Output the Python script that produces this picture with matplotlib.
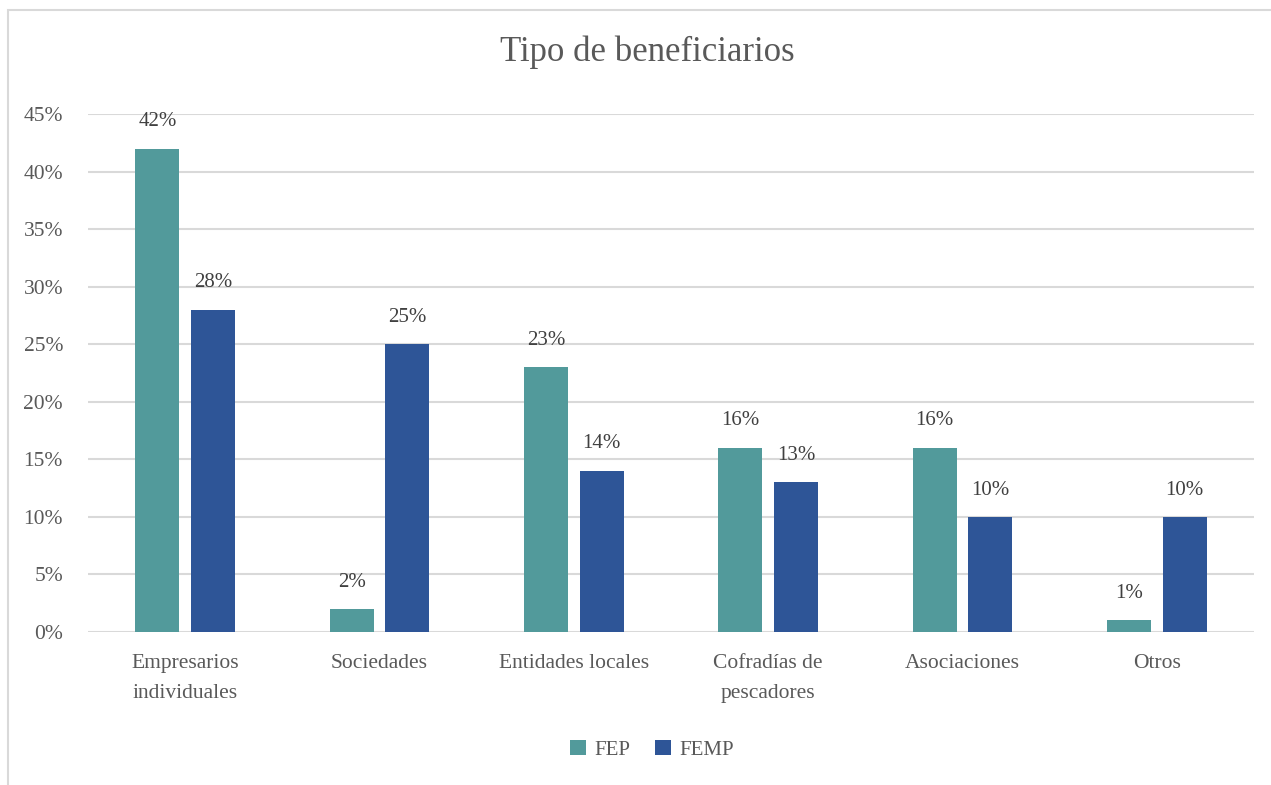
import numpy as np
import matplotlib.pyplot as plt
from matplotlib.patches import Rectangle

# Datos del gráfico
categorias = ['Empresarios\nindividuales', 'Sociedades', 'Entidades locales',
              'Cofradías de\npescadores', 'Asociaciones', 'Otros']
fep = [0.42, 0.02, 0.23, 0.16, 0.16, 0.01]
femp = [0.28, 0.25, 0.14, 0.13, 0.10, 0.10]
yticks = [0, 0.05, 0.10, 0.15, 0.20, 0.25, 0.30, 0.35, 0.40, 0.45]

color_fep = '#529A9B'
color_femp = '#2E5597'
gris = '#595959'

plt.rcParams['font.family'] = ['Liberation Serif', 'DejaVu Serif']

fig = plt.figure(figsize=(12.71, 7.85), dpi=100)
ax = fig.add_axes([88 / 1271, 1 - 632 / 785, (1254 - 88) / 1271, (632 - 114) / 785])

# Marco exterior del gráfico
fig.patches.append(Rectangle((8 / 1271, -0.05), 1.1, 1 - 10 / 785 + 0.05,
                             transform=fig.transFigure, fill=False,
                             edgecolor='#D9D9D9', linewidth=1.5))

x = np.arange(len(categorias))
ancho = 0.227
desp = 0.143

b1 = ax.bar(x - desp, fep, ancho, color=color_fep, label='FEP', zorder=3)
b2 = ax.bar(x + desp, femp, ancho, color=color_femp, label='FEMP', zorder=3)

for barras, valores in [(b1, fep), (b2, femp)]:
    for barra, v in zip(barras, valores):
        ax.annotate(f'{v * 100:.0f}%', (barra.get_x() + barra.get_width() / 2, v),
                    xytext=(0, 12.5), textcoords='offset points', ha='center', va='bottom',
                    fontsize=15, color='#404040')

ax.set_xlim(-0.5, len(categorias) - 0.5)
ax.set_ylim(0, 0.45)
ax.set_yticks(yticks)
ax.set_yticklabels([f'{t * 100:.0f}%' for t in yticks])
ax.set_xticks(x)
ax.set_xticklabels(categorias, linespacing=1.75)

ax.tick_params(axis='both', length=0, labelsize=15.5, colors=gris)
ax.tick_params(axis='x', pad=16)
ax.tick_params(axis='y', pad=18)
ax.grid(axis='y', color='#D9D9D9', linewidth=1.5, zorder=0)
for s in ax.spines.values():
    s.set_visible(False)

fig.text(0.509, 1 - 52 / 785, 'Tipo de beneficiarios', ha='center', va='center',
         fontsize=25, color=gris)

fig.legend(loc='center', bbox_to_anchor=(0.513, 1 - 750 / 785), ncol=2, frameon=False,
           fontsize=15, labelcolor=gris, handlelength=0.75, handleheight=0.75,
           columnspacing=1.2, handletextpad=0.4)

fig.savefig('out.png', dpi=100)
